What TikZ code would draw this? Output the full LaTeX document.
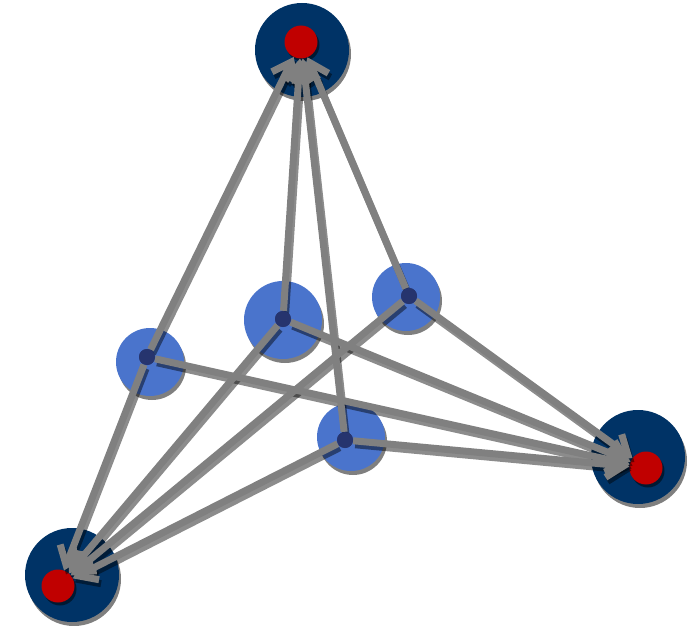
\documentclass[tikz,border=0pt]{standalone}
\usetikzlibrary{arrows.meta}
\definecolor{hubnavy}{RGB}{0,51,102}
\definecolor{hubred}{RGB}{192,0,0}
\definecolor{leafblue}{RGB}{74,116,204}
\definecolor{pindark}{RGB}{38,52,110}
\definecolor{linkgray}{RGB}{128,128,128}
\begin{document}
\begin{tikzpicture}[x=1pt,y=-1pt,
 hub/.style={circle,fill=hubnavy,minimum size=94pt,inner sep=0pt},
 core/.style={circle,fill=hubred,minimum size=33pt,inner sep=0pt},
 leaf/.style={circle,fill=leafblue,minimum size=#1,inner sep=0pt},
 leaf/.default=68pt,
 pin/.style={circle,fill=pindark,minimum size=16pt,inner sep=0pt},
 ghost/.style={circle,fill=black,opacity=.5,minimum size=#1,inner sep=0pt},
 link/.style={draw=linkgray,line width=7pt,-{Straight Barb[length=17pt,width=26pt]}},
 linkshade/.style={link,draw=black,opacity=.45,transform canvas={shift={(2,4)}}}]
\useasboundingbox (0,0) rectangle (697,626);
% shadows of the discs
\node[ghost=94pt] at (304,54) {};
\node[ghost=94pt] at (74,579) {};
\node[ghost=94pt] at (640,461) {};
\node[ghost=68pt] at (152,366) {};
\node[ghost=78pt] at (285,324) {};
\node[ghost=68pt] at (408,301) {};
\node[ghost=68pt] at (353,441) {};
% hubs
\node[hub] (hT) at (302,50) {};
\node[hub] (hL) at (72,575) {};
\node[hub] (hR) at (638,457) {};
% leaves
\node[leaf] (lA) at (150,362) {};
\node[leaf=78pt] (lB) at (283,320) {};
\node[leaf] (lC) at (406,297) {};
\node[leaf] (lD) at (351,437) {};
% cores
\node[ghost=33pt] at (303,45) {};
\node[ghost=33pt] at (60,589) {};
\node[ghost=33pt] at (648,471) {};
\node[core] (cT) at (301,42) {};
\node[core] (cL) at (58,586) {};
\node[core] (cR) at (646,468) {};
% pins
\node[pin] (pA) at (147,357) {};
\node[pin] (pB) at (283,319) {};
\node[pin] (pC) at (409,296) {};
\node[pin] (pD) at (345,440) {};
% links
\foreach \p in {pA,pB,pC,pD}{
 \foreach \c in {cT,cL,cR}{
  \draw[linkshade] (\p) -- (\c);
 }
}
\foreach \p in {pA,pB,pC,pD}{
 \foreach \c in {cT,cL,cR}{
  \draw[link] (\p) -- (\c);
 }
}
\foreach \p in {pA,pB,pC,pD}
 \node[pin] at (\p) {};
\end{tikzpicture}
\end{document}
